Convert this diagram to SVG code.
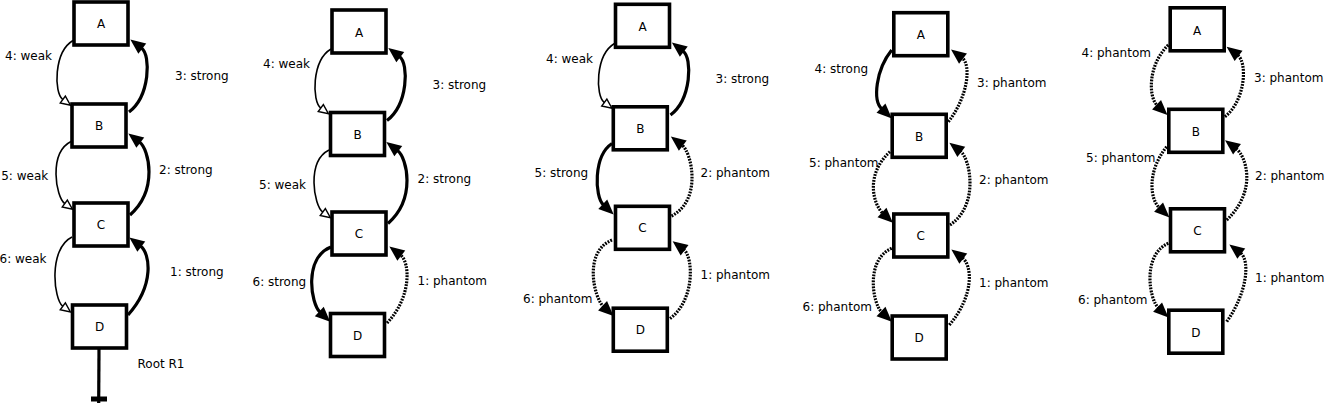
<svg xmlns="http://www.w3.org/2000/svg" width="1329" height="406" viewBox="0 0 1329 406">
<style>
.node rect{fill:#fff;stroke:#000;stroke-width:3.6}
.node text,.lbl{font-family:"DejaVu Sans","Liberation Sans",sans-serif;font-size:12px;fill:#000}
.node text{text-anchor:middle}
.e{fill:none;stroke:#000}
.strong{stroke-width:3.2;marker-end:url(#fa)}
.weak{stroke-width:1.6;marker-end:url(#oa)}
.phantom{stroke-width:3.2;stroke-dasharray:1.8 1.2;marker-end:url(#fa)}
</style>
<defs>
<marker id="fa" markerUnits="userSpaceOnUse" markerWidth="18" markerHeight="16" viewBox="-1 -8 18 16" refX="0" refY="0" orient="auto" overflow="visible"><path d="M-1,-6.5 L14,0 L-1,6.5 z" fill="#000"/></marker>
<marker id="oa" markerUnits="userSpaceOnUse" markerWidth="12" markerHeight="10" viewBox="0 -5 12 10" refX="0" refY="0" orient="auto" overflow="visible"><path d="M0,-4.3 L9.5,0 L0,4.3 z" fill="#fff" stroke="#000" stroke-width="1.4"/></marker>
</defs>
<rect width="1329" height="406" fill="#fff"/>

<!-- Panel 1 -->
<g id="panel1">
<g id="p1-A" class="node"><rect x="74" y="2" width="54" height="43"/><text x="101" y="28">A</text></g>
<g id="p1-B" class="node"><rect x="72" y="104" width="54" height="43"/><text x="99" y="130">B</text></g>
<g id="p1-C" class="node"><rect x="74" y="203" width="54" height="43"/><text x="101" y="229">C</text></g>
<g id="p1-D" class="node"><rect x="72.5" y="305" width="54" height="43"/><text x="99.5" y="331">D</text></g>
<g id="p1-root"><line x1="99" y1="349" x2="98.7" y2="403" stroke="#000" stroke-width="3.2"/><rect x="91" y="396.5" width="16" height="5" fill="#000"/><text class="lbl" x="137.5" y="368.3">Root R1</text></g>
<g id="p1-connectors">
<path class="e strong" d="M129,112 C150,96 151,55.2 141.5,48"/>
<path class="e strong" d="M130,215 C158.5,190 149,149.2 139.5,142"/>
<path class="e strong" d="M128,315 C155,285 150,253.2 140.5,246"/>
<path class="e weak" d="M73,40.5 C53.7,52 53.8,92.9 62.8,99.6"/>
<path class="e weak" d="M71,141.5 C48.3,153 55.8,196.9 64.8,203.6"/>
<path class="e weak" d="M72,237 C47.9,249 53.8,299.6 62.8,306.3"/>
<text class="lbl" x="5" y="60">4: weak</text>
<text class="lbl" x="175" y="80">3: strong</text>
<text class="lbl" x="1.2" y="180">5: weak</text>
<text class="lbl" x="159" y="174">2: strong</text>
<text class="lbl" x="-0.5" y="263.3">6: weak</text>
<text class="lbl" x="170" y="276">1: strong</text>
</g>
</g>

<!-- Panel 2 -->
<g id="panel2">
<g id="p2-A" class="node"><rect x="332" y="10" width="54" height="43"/><text x="359" y="36.5">A</text></g>
<g id="p2-B" class="node"><rect x="330.5" y="112.5" width="54" height="43"/><text x="357.5" y="138.5">B</text></g>
<g id="p2-C" class="node"><rect x="332" y="212" width="54" height="43"/><text x="359" y="237.8">C</text></g>
<g id="p2-D" class="node"><rect x="330.5" y="313.5" width="54" height="43"/><text x="357.5" y="339.5">D</text></g>
<g id="p2-connectors">
<path class="e strong" d="M387,120.5 C408,104.5 409,63.7 399.5,56.5"/>
<path class="e strong" d="M388,223.5 C416.5,198.5 407,157.7 397.5,150.5"/>
<path class="e phantom" d="M387,323 C412,297 410,262.2 400.5,255"/>
<path class="e weak" d="M331,49 C311.7,60.5 311.8,101.4 320.8,108.1"/>
<path class="e weak" d="M329,150 C306.3,161.5 313.8,205.4 322.8,212.1"/>
<path class="e strong" d="M331,247 C303.2,258 311,303.7 320,312.2"/>
<text class="lbl" x="263" y="68.3">4: weak</text>
<text class="lbl" x="432.5" y="89.3">3: strong</text>
<text class="lbl" x="259" y="189">5: weak</text>
<text class="lbl" x="417.5" y="183.3">2: strong</text>
<text class="lbl" x="252.5" y="286">6: strong</text>
<text class="lbl" x="417.5" y="285">1: phantom</text>
</g>
</g>

<!-- Panel 3 -->
<g id="panel3">
<g id="p3-A" class="node"><rect x="615.5" y="4.3" width="54" height="43"/><text x="642.5" y="30.5">A</text></g>
<g id="p3-B" class="node"><rect x="613.3" y="106.8" width="54" height="43"/><text x="640.3" y="132.5">B</text></g>
<g id="p3-C" class="node"><rect x="615.5" y="206.3" width="54" height="43"/><text x="642.5" y="232.3">C</text></g>
<g id="p3-D" class="node"><rect x="613.3" y="308.2" width="54" height="43"/><text x="640.3" y="334">D</text></g>
<g id="p3-connectors">
<path class="e strong" d="M670.5,115 C691.5,99 692.5,58.2 683,51"/>
<path class="e phantom" d="M671.5,216 C702.7,200 691.5,152.2 682,145"/>
<path class="e phantom" d="M670,318.5 C695.3,300 693.3,256.9 683.8,249.7"/>
<path class="e weak" d="M614.5,43.5 C595.2,55 595.3,95.9 604.3,102.6"/>
<path class="e strong" d="M612,143.5 C593.2,156 594.5,196.5 603.5,205"/>
<path class="e phantom" d="M612,240 C582.7,252 594.3,298 603.3,306.5"/>
<text class="lbl" x="546" y="63.3">4: weak</text>
<text class="lbl" x="715.5" y="83.3">3: strong</text>
<text class="lbl" x="534.5" y="176.7">5: strong</text>
<text class="lbl" x="700.5" y="176.7">2: phantom</text>
<text class="lbl" x="700.5" y="279">1: phantom</text>
<text class="lbl" x="523" y="302.7">6: phantom</text>
</g>
</g>

<!-- Panel 4 -->
<g id="panel4">
<g id="p4-A" class="node"><rect x="893.8" y="12.7" width="54" height="43"/><text x="920.8" y="39">A</text></g>
<g id="p4-B" class="node"><rect x="892.2" y="114.3" width="54" height="43"/><text x="919.2" y="140.5">B</text></g>
<g id="p4-C" class="node"><rect x="893.8" y="214" width="54" height="43"/><text x="920.8" y="240">C</text></g>
<g id="p4-D" class="node"><rect x="892.2" y="316" width="54" height="43"/><text x="919.2" y="342">D</text></g>
<g id="p4-connectors">
<path class="e phantom" d="M948.3,121.7 C967.4,98 971.7,65.2 962.2,58"/>
<path class="e phantom" d="M950,225 C979.8,205 970,158.5 960.5,151.3"/>
<path class="e phantom" d="M949.3,325 C974.8,295 972,265.2 962.5,258"/>
<path class="e strong" d="M891.7,50 C875.7,70 872.7,100.3 881.7,108.8"/>
<path class="e phantom" d="M890,151.7 C864.4,175 873.7,204.7 882.7,213.2"/>
<path class="e phantom" d="M891.7,248.3 C865,260 872.7,303.7 881.7,312.2"/>
<text class="lbl" x="814.5" y="73.3">4: strong</text>
<text class="lbl" x="977" y="87.3">3: phantom</text>
<text class="lbl" x="809" y="167.3">5: phantom</text>
<text class="lbl" x="979" y="184.3">2: phantom</text>
<text class="lbl" x="979" y="286.7">1: phantom</text>
<text class="lbl" x="802.5" y="311">6: phantom</text>
</g>
</g>

<!-- Panel 5 -->
<g id="panel5">
<g id="p5-A" class="node"><rect x="1170.2" y="7.8" width="54" height="43"/><text x="1197.2" y="34.5">A</text></g>
<g id="p5-B" class="node"><rect x="1168.8" y="109.3" width="54" height="43"/><text x="1195.8" y="135.5">B</text></g>
<g id="p5-C" class="node"><rect x="1170.5" y="208.8" width="54" height="43"/><text x="1197.5" y="235">C</text></g>
<g id="p5-D" class="node"><rect x="1168.8" y="310.2" width="54" height="43"/><text x="1195.8" y="336.5">D</text></g>
<g id="p5-connectors">
<path class="e phantom" d="M1225,116.7 C1245.9,100 1247.3,62.5 1237.8,55.3"/>
<path class="e phantom" d="M1226.7,220 C1258.1,190 1245.7,155.9 1236.2,148.7"/>
<path class="e phantom" d="M1226.7,321.7 C1247.7,292 1250,260.2 1240.5,253"/>
<path class="e phantom" d="M1168.3,45 C1147.7,65 1148.3,97 1157.3,105.5"/>
<path class="e phantom" d="M1166.7,146.7 C1146.4,172 1150.3,199.3 1159.3,207.8"/>
<path class="e phantom" d="M1168.3,243.3 C1141.8,255 1149.3,299.3 1158.3,307.8"/>
<text class="lbl" x="1081.5" y="57.3">4: phantom</text>
<text class="lbl" x="1254" y="81.7">3: phantom</text>
<text class="lbl" x="1086" y="161.7">5: phantom</text>
<text class="lbl" x="1255" y="180">2: phantom</text>
<text class="lbl" x="1255" y="281.7">1: phantom</text>
<text class="lbl" x="1078" y="304.3">6: phantom</text>
</g>
</g>
</svg>
